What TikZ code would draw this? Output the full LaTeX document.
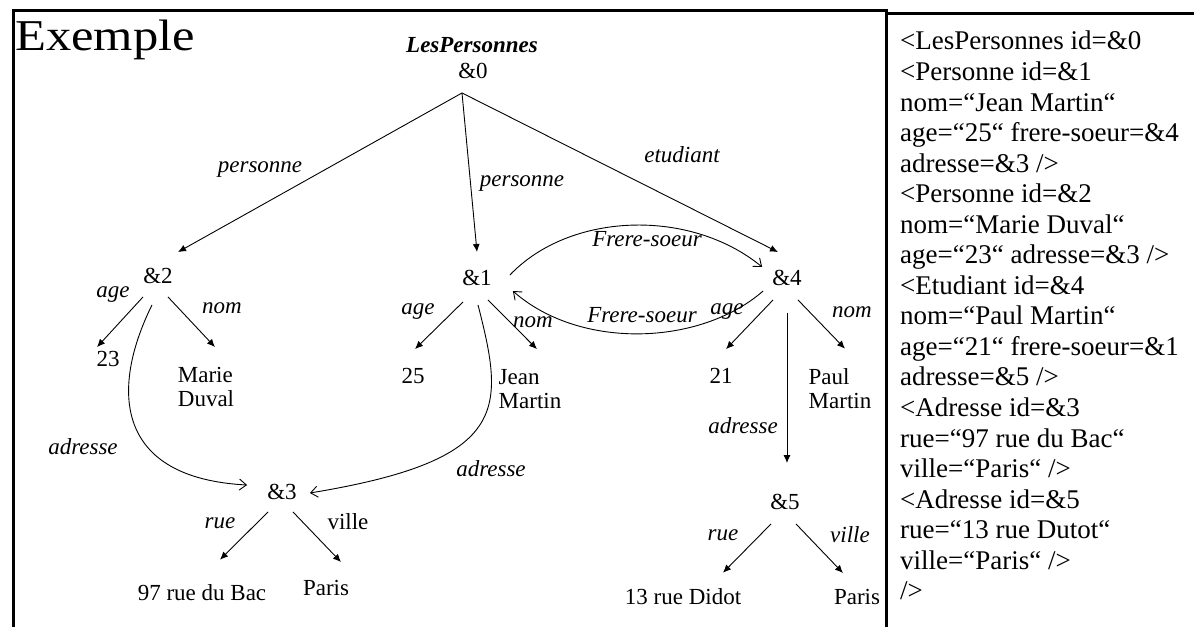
\documentclass[tikz,border=0pt]{standalone}
\usepackage{graphicx}
\usepackage{fontspec}
\setmainfont{Liberation Serif}
\usetikzlibrary{arrows.meta}

\begin{document}
\begin{tikzpicture}[x=1pt, y=-1pt,
    refnode/.style={inner sep=0pt, font=\fontsize{23}{24}\selectfont},
    valnode/.style={inner sep=0pt, align=left, font=\fontsize{23}{24}\selectfont},
    lbl/.style={inner sep=0pt, font=\fontsize{23}{24}\selectfont\itshape},
    arr/.style={-{Latex[length=8pt,width=7pt]}, line width=0.9pt},
    ptr/.style={-{Straight Barb[length=7pt,width=11pt]}, line width=0.9pt},
    frame/.style={line width=3pt}]
  \useasboundingbox (0,0) rectangle (1194,627);
  \draw[frame] (13,627) -- (13,10) -- (886,10) -- (886,627);
  \draw[frame] (886,13) -- (1194,13);

  \node[anchor=base west, inner sep=0pt, font=\fontsize{44}{48}\selectfont] (titre) at (15,50) {\scalebox{1.15}[1]{Exemple}};

  \node[lbl, font=\fontsize{23}{24}\selectfont\bfseries\itshape] (racine) at (472,45) {LesPersonnes};
  \node[refnode] (n0) at (473,71) {\&0};
  \node[refnode] (n2) at (158,276) {\&2};
  \node[refnode] (n1) at (477,278) {\&1};
  \node[refnode] (n4) at (787,278) {\&4};
  \node[refnode] (n3) at (282,492) {\&3};
  \node[refnode] (n5) at (785,502) {\&5};

  \node[valnode] (age2) at (108,359) {23};
  \node[valnode] (nom2) at (206,387) {Marie\\Duval};
  \node[valnode] (age1) at (413,376) {25};
  \node[valnode] (nom1) at (530,389) {Jean\\Martin};
  \node[valnode] (age4) at (721,376) {21};
  \node[valnode] (nom4) at (840,389) {Paul\\Martin};
  \node[valnode] (rue3) at (202,593) {97 rue du Bac};
  \node[valnode] (ville3) at (326,588) {Paris};
  \node[valnode] (rue5) at (683,597) {13 rue Didot};
  \node[valnode] (ville5) at (857,597) {Paris};

  \node[lbl] (e02) at (260,170) {personne};
  \node[lbl] (e01) at (522,184) {personne};
  \node[lbl] (e04) at (682,155) {etudiant};
  \node[lbl] (fs14) at (647,239) {Frere-soeur};
  \node[lbl] (fs41) at (642,315) {Frere-soeur};
  \node[lbl] (eage2) at (113,295) {age};
  \node[lbl] (enom2) at (222,308) {nom};
  \node[lbl] (eadr2) at (83,447) {adresse};
  \node[lbl] (eage1) at (418,312) {age};
  \node[lbl] (enom1) at (533,322) {nom};
  \node[lbl] (eadr1) at (491,469) {adresse};
  \node[lbl] (eage4) at (727,312) {age};
  \node[lbl] (enom4) at (852,312) {nom};
  \node[lbl] (eadr4) at (743,426) {adresse};
  \node[lbl] (erue3) at (220,523) {rue};
  \node[refnode] (eville3) at (348,522) {ville};
  \node[lbl] (erue5) at (723,535) {rue};
  \node[lbl] (eville5) at (850,535) {ville};

  \draw[arr] ([shift={(-11,14)}]n0.south) -- ([shift={(20,-16)}]n2.north);
  \draw[arr] ([shift={(-11,14)}]n0.south) -- ([shift={(0,-18)}]n1.north);
  \draw[arr] ([shift={(-11,14)}]n0.south) -- ([shift={(-9,-18)}]n4.north);

  \draw[arr] ([shift={(-15,13)}]n2.south) -- ([shift={(-11,-4)}]age2.north);
  \draw[arr] ([shift={(10,13)}]n2.south) -- ([shift={(9,-20)}]nom2.north);
  \draw[ptr] ([shift={(-6,21)}]n2.south) .. controls +(-42,85) and +(-132,-7) .. ([shift={(-20,-7)}]n3.west);

  \draw[arr] ([shift={(-14,16)}]n1.south) -- ([shift={(2,-19)}]age1.north);
  \draw[arr] ([shift={(11,14)}]n1.south) -- ([shift={(7,-20)}]nom1.north);
  \draw[ptr] ([shift={(1,19)}]n1.south) .. controls +(27,105) and +(200,-33) .. ([shift={(13,1)}]n3.east);

  \draw[ptr] ([shift={(18,-3)}]n1.east) .. controls +(60,-63) and +(-72,-59) .. ([shift={(-10,-11)}]n4.west);
  \draw[ptr] ([shift={(-9,13)}]n4.west) .. controls +(-63,55) and +(67,59) .. ([shift={(21,13)}]n1.east);

  \draw[arr] ([shift={(-14,14)}]n4.south) -- ([shift={(5,-19)}]age4.north);
  \draw[arr] ([shift={(0,27)}]n4.south) -- ([shift={(2,-31)}]n5.north);
  \draw[arr] ([shift={(11,14)}]n4.south) -- ([shift={(5,-20)}]nom4.north);

  \draw[arr] ([shift={(-14,12)}]n3.south) -- ([shift={(18,-25)}]rue3.north);
  \draw[arr] ([shift={(11,12)}]n3.south) -- ([shift={(15,-18)}]ville3.north);
  \draw[arr] ([shift={(-14,14)}]n5.south) -- ([shift={(40,-16)}]rue5.north);
  \draw[arr] ([shift={(11,14)}]n5.south) -- ([shift={(-14,-16)}]ville5.north);

  \node[anchor=north west, inner sep=0pt, align=left, font=\fontsize{27}{30.55}\selectfont] (xml) at (900,31) {<LesPersonnes id=\&0\\
    <Personne id=\&1\\
    nom=“Jean Martin“\\
    age=“25“ frere-soeur=\&4\\
    adresse=\&3 />\\
    <Personne id=\&2\\
    nom=“Marie Duval“\\
    age=“23“ adresse=\&3 />\\
    <Etudiant id=\&4\\
    nom=“Paul Martin“\\
    age=“21“ frere-soeur=\&1\\
    adresse=\&5 />\\
    <Adresse id=\&3\\
    rue=“97 rue du Bac“\\
    ville=“Paris“ />\\
    <Adresse id=\&5\\
    rue=“13 rue Dutot“\\
    ville=“Paris“ />\\
    />};
\end{tikzpicture}
\end{document}
